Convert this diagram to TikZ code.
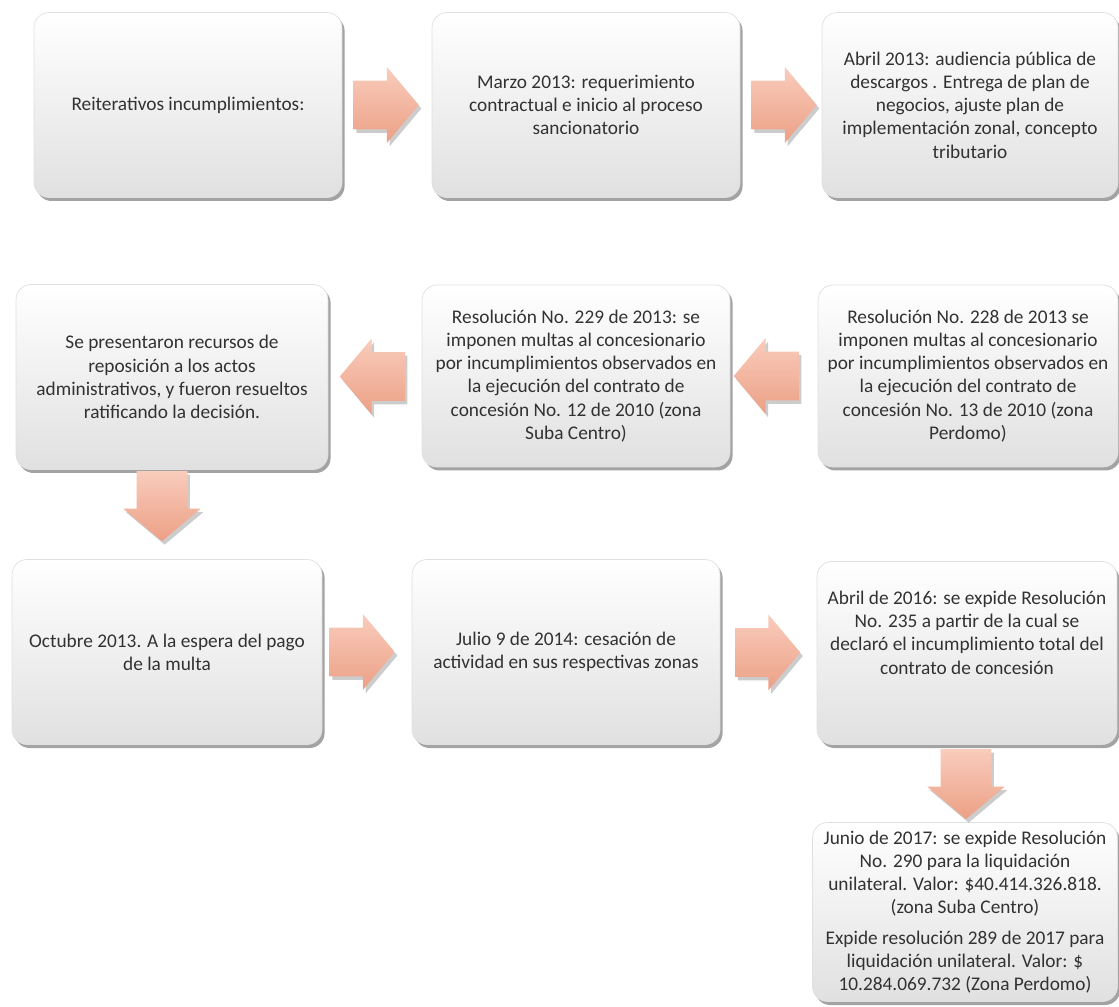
\documentclass[tikz,border=0pt]{standalone}
\usepackage{fontspec}
\setmainfont{Carlito}
\usetikzlibrary{shapes.arrows,shadows,calc}

\definecolor{arrowtop}{RGB}{249,204,188}
\definecolor{arrowbot}{RGB}{236,160,134}
\definecolor{boxtext}{RGB}{50,50,50}

\tikzset{
    stagebox/.style={rectangle, rounded corners=0.3cm, draw=black!12,
        top color=white, bottom color=black!12, text=boxtext,
        align=center, inner sep=2pt,
        font=\fontsize{11}{13.2}\selectfont,
        drop shadow={shadow xshift=1.5pt, shadow yshift=-2pt, fill=black!60, opacity=.6}},
    blockarrow/.style={single arrow, draw=none, inner xsep=0pt, inner ysep=0.48cm,
        top color=arrowtop, bottom color=arrowbot,
        minimum height=1.3cm, minimum width=1.5cm,
        single arrow head extend=0.27cm, single arrow tip angle=100,
        drop shadow={shadow xshift=1.5pt, shadow yshift=-2pt, fill=black!50, opacity=.4}},
    rightarrow/.style={blockarrow, xshift=-0.22cm},
    leftarrow/.style={blockarrow, shape border rotate=180, xshift=0.15cm},
    downarrow/.style={blockarrow, shape border rotate=270,
        inner xsep=0.5cm, inner ysep=0pt, minimum height=1.4cm}
}

\begin{document}
\begin{tikzpicture}[x=0.02cm, y=-0.02cm]
        \useasboundingbox (0,0) rectangle (1119,1007);

        % row 1
        \node[stagebox, minimum width=6.16cm, minimum height=3.7cm] (b1) at (188,105)
            {Reiterativos incumplimientos:};
        \node[stagebox, minimum width=6.16cm, minimum height=3.7cm] (b2) at (586,105)
            {Marzo 2013: requerimiento\\contractual e inicio al proceso\\sancionatorio};
        \node[stagebox, minimum width=5.92cm, minimum height=3.7cm] (b3) at (970,105)
            {Abril 2013: audiencia pública de\\descargos . Entrega de plan de\\negocios, ajuste plan de\\implementación zonal, concepto\\tributario};

        % row 2
        \node[stagebox, minimum width=6.24cm, minimum height=3.7cm] (b4) at (172,377)
            {Se presentaron recursos de\\reposición a los actos\\administrativos, y fueron resueltos\\ratificando la decisión.};
        \node[stagebox, minimum width=6.16cm, minimum height=3.64cm] (b5) at (576,376)
            {Resolución No. 229 de 2013: se\\imponen multas al concesionario\\por incumplimientos observados en\\la ejecución del contrato de\\concesión No. 12 de 2010 (zona\\Suba Centro)};
        \node[stagebox, minimum width=6.0cm, minimum height=3.64cm] (b6) at (968,376)
            {Resolución No. 228 de 2013 se\\imponen multas al concesionario\\por incumplimientos observados en\\la ejecución del contrato de\\concesión No. 13 de 2010 (zona\\Perdomo)};

        % row 3
        \node[stagebox, minimum width=6.2cm, minimum height=3.7cm] (b7) at (167,652)
            {Octubre 2013. A la espera del pago\\de la multa};
        \node[stagebox, minimum width=6.16cm, minimum height=3.7cm] (b8) at (566,652)
            {Julio 9 de 2014: cesación de\\actividad en sus respectivas zonas};
        \node[stagebox, minimum width=6.0cm, minimum height=3.66cm] (b9) at (967,653)
            {Abril de 2016: se expide Resolución\\No. 235 a partir de la cual se\\declaró el incumplimiento total del\\contrato de concesión\\[10pt]};

        % last box
        \node[stagebox, minimum width=6.1cm, minimum height=3.58cm] (b10) at (965,912)
            {Junio de 2017: se expide Resolución\\No. 290 para la liquidación\\unilateral. Valor: \$40.414.326.818.\\(zona Suba Centro)\\[4pt]Expide resolución 289 de 2017 para\\liquidación unilateral. Valor: \$\\10.284.069.732 (Zona Perdomo)};

        % arrows
        \node[rightarrow] (a12) at ($(b1.east)!0.5!(b2.west)$) {};
        \node[rightarrow, xshift=0.08cm] (a23) at ($(b2.east)!0.5!(b3.west)$) {};
        \node[leftarrow, xshift=-0.1cm] (a65) at ($(b6.west)!0.5!(b5.east)$) {};
        \node[leftarrow] (a54) at ($(b5.west)!0.5!(b4.east)$) {};
        \node[downarrow, yshift=0.38cm, xshift=-0.15cm] (a47) at ($(b4.south)!0.5!(b7.north)$) {};
        \node[rightarrow, xshift=-0.08cm] (a78) at ($(b7.east)!0.5!(b8.west)$) {};
        \node[rightarrow] (a89) at ($(b8.east)!0.5!(b9.west)$) {};
        \node[downarrow, yshift=0.2cm] (a910) at ($(b9.south)!0.5!(b10.north)$) {};
    \end{tikzpicture}
\end{document}
